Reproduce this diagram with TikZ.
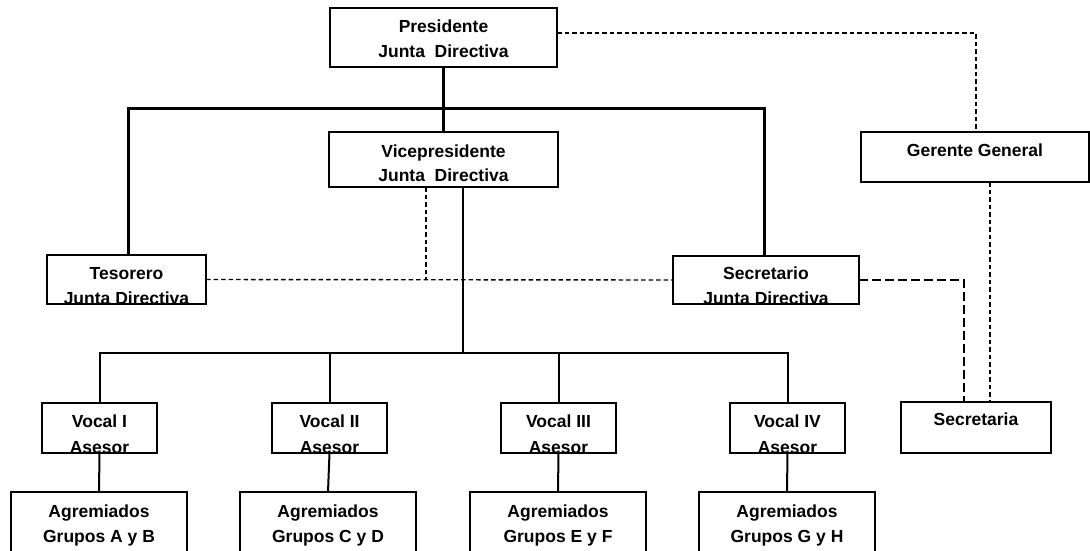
\documentclass[tikz,border=0pt]{standalone}
\usepackage{fontspec}
\setmainfont{Liberation Sans}
\usetikzlibrary{calc}
\begin{document}
\begin{tikzpicture}[x=1pt,y=-1pt,
  box/.style={draw, line width=1.5pt, anchor=north west, inner sep=0pt, outer sep=0pt},
  vocalbox/.style={box, minimum width=115pt, minimum height=50pt},
  groupbox/.style={box, minimum width=176pt, minimum height=70pt},
  lbl/.style={anchor=base, inner sep=0pt, font=\fontsize{17.5}{20}\selectfont\bfseries},
  trunk/.style={line width=3pt},
  tree/.style={line width=2pt},
  shortdash/.style={line width=1.4pt, dash pattern=on 4.5pt off 3pt},
  longdash/.style={line width=1.4pt, dash pattern=on 9pt off 4pt}]
\clip (0,0) rectangle (1090,550);

% boxes
\node[box, minimum width=227pt, minimum height=59pt] (pres) at (330,8) {};
\node[box, minimum width=229pt, minimum height=55pt] (vice) at (329,132) {};
\node[box, minimum width=159pt, minimum height=49pt] (tes) at (47,255) {};
\node[box, minimum width=186pt, minimum height=48pt] (secr) at (673,256) {};
\node[box, minimum width=228pt, minimum height=50pt] (ger) at (861,132) {};
\node[box, minimum width=150pt, minimum height=51pt] (sria) at (901,402) {};
\node[vocalbox] (v1) at (42,403) {};
\node[vocalbox] (v2) at (272,403) {};
\node[vocalbox] (v3) at (501,403) {};
\node[vocalbox] (v4) at (730,403) {};
\node[groupbox] (g1) at (11,492) {};
\node[groupbox] (g2) at (240,492) {};
\node[groupbox] (g3) at (470,492) {};
\node[groupbox] (g4) at (699,492) {};

% texts
\node[lbl] (pres-a) at ($(pres.north)+(0,24)$) {Presidente};
\node[lbl] (pres-b) at ($(pres.north)+(0,49)$) {Junta\ \ Directiva};
\node[lbl] (vice-a) at ($(vice.north)+(0,25)$) {Vicepresidente};
\node[lbl] (vice-b) at ($(vice.north)+(0,49)$) {Junta\ \ Directiva};
\node[lbl] (tes-a) at ($(tes.north)+(0,24)$) {Tesorero};
\node[lbl] (tes-b) at ($(tes.north)+(0,49)$) {Junta Directiva};
\node[lbl] (secr-a) at ($(secr.north)+(0,23)$) {Secretario};
\node[lbl] (secr-b) at ($(secr.north)+(0,48)$) {Junta Directiva};
\node[lbl] (ger-a) at ($(ger.north)+(0,24)$) {Gerente General};
\node[lbl] (sria-a) at ($(sria.north)+(0,23)$) {Secretaria};
\node[lbl] (v1-a) at ($(v1.north)+(0,24)$) {Vocal I};
\node[lbl] (v1-b) at ($(v1.north)+(0,50)$) {Asesor};
\node[lbl] (v2-a) at ($(v2.north)+(0,24)$) {Vocal II};
\node[lbl] (v2-b) at ($(v2.north)+(0,50)$) {Asesor};
\node[lbl] (v3-a) at ($(v3.north)+(0,24)$) {Vocal III};
\node[lbl] (v3-b) at ($(v3.north)+(0,50)$) {Asesor};
\node[lbl] (v4-a) at ($(v4.north)+(0,24)$) {Vocal IV};
\node[lbl] (v4-b) at ($(v4.north)+(0,50)$) {Asesor};
\node[lbl] (g1-a) at ($(g1.north)+(0,25)$) {Agremiados};
\node[lbl] (g1-b) at ($(g1.north)+(0,50)$) {Grupos A y B};
\node[lbl] (g2-a) at ($(g2.north)+(0,25)$) {Agremiados};
\node[lbl] (g2-b) at ($(g2.north)+(0,50)$) {Grupos C y D};
\node[lbl] (g3-a) at ($(g3.north)+(0,25)$) {Agremiados};
\node[lbl] (g3-b) at ($(g3.north)+(0,50)$) {Grupos E y F};
\node[lbl] (g4-a) at ($(g4.north)+(0,25)$) {Agremiados};
\node[lbl] (g4-b) at ($(g4.north)+(0,50)$) {Grupos G y H};

% board structure
\coordinate (topbus) at (443.5,108);
\draw[trunk] (pres.south) -- (vice.north);
\draw[trunk] ($(tes.north)+(1.5,0)$) |- (topbus) -| ($(secr.north)+(-2,0)$);

% lower tree
\coordinate (vsolid) at ($(vice.south)+(19.5,0)$);
\coordinate (lowbus) at (463,353);
\draw[tree] (vsolid) -- (lowbus);
\draw[tree] (v1.north) |- (lowbus) -| (v4.north);
\draw[tree] (v2.north) -- (v2.north |- lowbus);
\draw[tree] (v3.north) -- (v3.north |- lowbus);
\draw[tree] (v1.south) -- (g1.north);
\draw[tree] (v2.south) -- (g2.north);
\draw[tree] (v3.south) -- (g3.north);
\draw[tree] (v4.south) -- (g4.north);

% staff relations
\coordinate (vdash) at ($(vice.south)+(-17.5,0)$);
\draw[shortdash] (tes.east) -- (secr.west);
\draw[shortdash] (vdash) -- (vdash |- tes.east);
\coordinate (pg) at ($(pres.north east)+(0,25)$);
\draw[shortdash] (pg) -| ($(ger.north)+(1,0)$);
\coordinate (gs) at ($(ger.south)+(15,0)$);
\draw[shortdash] (gs) -- (gs |- sria.north);
\coordinate (ss) at ($(sria.north)+(-12,0)$);
\draw[longdash] (secr.east) -| (ss);
\end{tikzpicture}
\end{document}
